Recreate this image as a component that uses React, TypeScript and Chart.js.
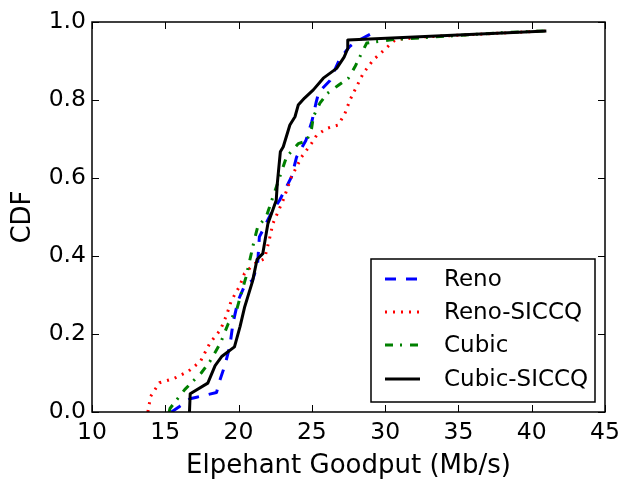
import React, { useEffect, useRef } from 'react';
import { Chart, registerables } from 'chart.js';

Chart.register(...registerables);

const xTicks = [10, 15, 20, 25, 30, 35, 40, 45];
const yTicks = [0, 0.2, 0.4, 0.6, 0.8, 1.0];
const seriesNames = ['Reno', 'Reno-SICCQ', 'Cubic', 'Cubic-SICCQ'];

const renoX = [15.42, 16.0, 16.69, 17.14, 18.5, 18.65, 19.07, 19.41, 19.62, 19.96, 20.44, 20.96, 21.3, 21.42, 22.22, 22.8, 23.61, 23.96, 24.6, 25.0, 25.3, 25.47, 26.24, 26.9, 27.6, 27.99, 29.42];
const renoY = [0, 0.015, 0.034, 0.038, 0.05, 0.073, 0.12, 0.17, 0.228, 0.285, 0.326, 0.338, 0.38, 0.449, 0.509, 0.543, 0.603, 0.654, 0.697, 0.745, 0.795, 0.82, 0.85, 0.905, 0.938, 0.949, 0.977];

const renoSiccqX = [13.81, 14.0, 14.6, 15.6, 16.6, 17.4, 18.05, 18.75, 19.2, 19.5, 20.1, 20.4, 21.07, 21.77, 22.11, 22.34, 23.04, 23.61, 24.3, 24.98, 25.33, 26.0, 26.81, 27.26, 27.6, 27.94, 28.5, 29.19, 29.87, 30.7, 32.8, 40.9];
const renoSiccqY = [0, 0.04, 0.075, 0.086, 0.105, 0.13, 0.177, 0.21, 0.25, 0.285, 0.325, 0.355, 0.38, 0.393, 0.444, 0.483, 0.543, 0.603, 0.654, 0.689, 0.71, 0.727, 0.736, 0.766, 0.8, 0.826, 0.868, 0.903, 0.926, 0.955, 0.962, 0.977];

const cubicX = [15.26, 15.32, 16.34, 17.45, 18.05, 18.55, 18.8, 19.3, 19.87, 20.15, 20.5, 21.07, 21.3, 21.88, 22.46, 23.27, 24.07, 24.64, 24.98, 25.1, 25.55, 26.06, 26.81, 27.49, 27.94, 28.33, 28.74, 30.55, 38.6, 40.9];
const cubicY = [0, 0.009, 0.058, 0.1, 0.13, 0.163, 0.18, 0.227, 0.262, 0.3, 0.345, 0.44, 0.474, 0.5, 0.564, 0.654, 0.688, 0.695, 0.727, 0.757, 0.792, 0.817, 0.838, 0.856, 0.885, 0.915, 0.946, 0.955, 0.974, 0.977];

const cubicSiccqX = [16.65, 16.7, 17.9, 18.4, 18.87, 19.72, 20.1, 20.42, 20.95, 21.26, 21.65, 22.0, 22.57, 22.64, 22.85, 23.05, 23.5, 23.85, 24.07, 24.5, 25.1, 25.78, 26.69, 27.2, 27.45, 27.45, 41.0];
const cubicSiccqY = [0, 0.047, 0.074, 0.119, 0.143, 0.167, 0.219, 0.27, 0.335, 0.391, 0.406, 0.483, 0.543, 0.585, 0.667, 0.68, 0.736, 0.757, 0.787, 0.805, 0.826, 0.856, 0.881, 0.91, 0.932, 0.954, 0.977];

const seriesX = [renoX, renoSiccqX, cubicX, cubicSiccqX];
const seriesY = [renoY, renoSiccqY, cubicY, cubicSiccqY];
const seriesColors = ['#0000ff', '#ff0000', '#008000', '#000000'];
const seriesDash = [[11, 10], [2, 6], [8, 7, 2, 8], []];
const seriesOrder = [3, 2, 1, 0];

const FONT_FAMILY = '"DejaVu Sans", "Liberation Sans", sans-serif';
const TICK_SIZE = 23.5;
const TITLE_SIZE = 26;
const LEGEND_SIZE = 23;

const toPoints = (xs: number[], ys: number[]) => xs.map((x, i) => ({ x, y: ys[i] }));

const mplPlugin = {
  id: 'mplFrame',
  afterDatasetsDraw(chart: any) {
    const { ctx, chartArea: a, scales } = chart;
    ctx.save();
    ctx.strokeStyle = '#000';
    ctx.lineWidth = 1;
    const tl = 7;
    ctx.beginPath();
    for (const v of xTicks) {
      const px = Math.round(scales.x.getPixelForValue(v)) + 0.5;
      ctx.moveTo(px, a.bottom);
      ctx.lineTo(px, a.bottom - tl);
      ctx.moveTo(px, a.top);
      ctx.lineTo(px, a.top + tl);
    }
    for (const v of yTicks) {
      const py = Math.round(scales.y.getPixelForValue(v)) + 0.5;
      ctx.moveTo(a.left, py);
      ctx.lineTo(a.left + tl, py);
      ctx.moveTo(a.right, py);
      ctx.lineTo(a.right - tl, py);
    }
    ctx.stroke();
    ctx.lineWidth = 1.5;
    ctx.strokeRect(a.left, a.top, a.right - a.left, a.bottom - a.top);

    // legend box
    const w = 224;
    const h = 143;
    const lx = a.right - 10 - w;
    const ly = a.bottom - 10 - h;
    ctx.fillStyle = '#fff';
    ctx.fillRect(lx, ly, w, h);
    ctx.lineWidth = 1.5;
    ctx.strokeStyle = '#000';
    ctx.strokeRect(lx, ly, w, h);
    const rows = [20, 53, 86, 120];
    ctx.font = `${LEGEND_SIZE}px ${FONT_FAMILY}`;
    ctx.textBaseline = 'middle';
    ctx.textAlign = 'left';
    chart.data.datasets.forEach((ds: any, i: number) => {
      const yy = ly + rows[i];
      ctx.beginPath();
      ctx.setLineDash(ds.borderDash || []);
      ctx.lineCap = 'butt';
      ctx.strokeStyle = ds.borderColor;
      ctx.lineWidth = ds.borderWidth;
      ctx.moveTo(lx + 14, yy);
      ctx.lineTo(lx + 49, yy);
      ctx.stroke();
      ctx.setLineDash([]);
      ctx.fillStyle = '#000';
      ctx.fillText(ds.label, lx + 73, yy + 1);
    });
    ctx.restore();
  },
};

export default function App() {
  const ref = useRef<HTMLCanvasElement | null>(null);

  useEffect(() => {
    document.body.style.margin = '0';
    const canvas = ref.current;
    if (!canvas) return;
    const chart = new Chart(canvas, {
      type: 'scatter',
      data: {
        datasets: seriesNames.map((name, i) => ({
          label: name,
          data: toPoints(seriesX[i], seriesY[i]),
          showLine: true,
          borderColor: seriesColors[i],
          backgroundColor: seriesColors[i],
          borderWidth: 3,
          borderDash: seriesDash[i],
          borderCapStyle: 'butt',
          borderJoinStyle: 'round',
          pointRadius: 0,
          pointHoverRadius: 0,
          tension: 0,
          order: seriesOrder[i],
        })),
      },
      options: {
        responsive: false,
        animation: false,
        devicePixelRatio: 1,
        layout: { padding: { top: 22, right: 22, left: 0, bottom: 0 } },
        plugins: {
          legend: { display: false },
          tooltip: { enabled: false },
        },
        scales: {
          x: {
            type: 'linear',
            min: 10,
            max: 45,
            afterBuildTicks: (scale: any) => {
              scale.ticks = xTicks.map((v) => ({ value: v }));
            },
            afterFit: (scale: any) => {
              scale.height = 75;
            },
            grid: { display: false, drawTicks: false },
            border: { display: false },
            ticks: {
              color: '#000',
              font: { family: FONT_FAMILY, size: TICK_SIZE },
              padding: 7,
              maxRotation: 0,
              autoSkip: false,
              callback: (v: any) => String(v),
            },
            title: {
              display: true,
              text: 'Elpehant Goodput (Mb/s)',
              color: '#000',
              font: { family: FONT_FAMILY, size: TITLE_SIZE },
              padding: { top: 0, bottom: 5 },
            },
          },
          y: {
            type: 'linear',
            min: 0,
            max: 1,
            afterBuildTicks: (scale: any) => {
              scale.ticks = yTicks.map((v) => ({ value: v }));
            },
            afterFit: (scale: any) => {
              scale.width = 92;
            },
            grid: { display: false, drawTicks: false },
            border: { display: false },
            ticks: {
              color: '#000',
              font: { family: FONT_FAMILY, size: TICK_SIZE },
              padding: 6,
              autoSkip: false,
              callback: (v: any) => Number(v).toFixed(1),
            },
            title: {
              display: true,
              text: 'CDF',
              color: '#000',
              font: { family: FONT_FAMILY, size: TITLE_SIZE },
              padding: { top: 8, bottom: 0 },
            },
          },
        },
      },
      plugins: [mplPlugin],
    } as any);
    return () => chart.destroy();
  }, []);

  return (
    <div style={{ width: 627, height: 487 }}>
      <canvas ref={ref} width={627} height={487} style={{ display: 'block' }} />
    </div>
  );
}
